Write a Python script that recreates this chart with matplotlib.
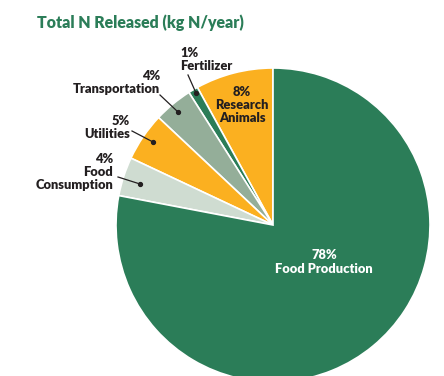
import matplotlib.pyplot as plt

labels = ['Research Animals', 'Fertilizer', 'Transportation', 'Utilities',
          'Food Consumption', 'Food Production']
values = [8, 1, 4, 5, 4, 78]
colors = ['#fbb020', '#2b7d58', '#94ae99', '#fbb020', '#cfdcd1', '#2b7d58']

W, H = 444, 376
plt.rcParams['font.family'] = ['Lato', 'DejaVu Sans']

fig = plt.figure(figsize=(W / 100, H / 100), dpi=100)
ax = fig.add_axes([0, 0, 1, 1])

def py(y):
    return H - y

ax.pie(values, colors=colors, startangle=90, counterclock=True,
       center=(273, py(225)), radius=157,
       wedgeprops=dict(edgecolor='white', linewidth=1.2))
ax.set_xlim(0, W)
ax.set_ylim(0, H)
ax.set_aspect('equal')
ax.axis('off')

dark = '#231f20'
ax.text(37, py(23), 'Total N Released (kg N/year)', color='#2b7d58',
        fontsize=11.4, fontweight='heavy', ha='left', va='center')

# outside labels: pct, name, x, top y, alignment
outside = [
    ('1%', 'Fertilizer', 180, 47, 'left'),
    ('4%', 'Transportation', 160, 70, 'right'),
    ('5%', 'Utilities', 130, 115, 'right'),
    ('4%', 'Food\nConsumption', 113, 153, 'right'),
]
for pct, name, x, y, ha in outside:
    ax.text(x, py(y), pct + '\n' + name, color=dark, fontsize=9.3,
            fontweight='heavy', ha=ha, va='top', linespacing=1.1,
            multialignment=ha)

leaders = [((188, 75), (196, 93)), ((160, 95), (178, 112)),
           ((132, 131), (153, 142)), ((118, 177), (140, 184))]
for (x0, y0), (x1, y1) in leaders:
    ax.plot([x0, x1], [py(y0), py(y1)], color=dark, lw=0.9)
    ax.plot([x1], [py(y1)], 'o', color=dark, ms=2.8)

ax.text(242, py(105), '8%\nResearch\nAnimals', color=dark, fontsize=9.3,
        fontweight='heavy', ha='center', va='center', linespacing=1.15)
ax.text(324, py(262), '78%\nFood Production', color='white', fontsize=9.3,
        fontweight='heavy', ha='center', va='center', linespacing=1.15)

fig.savefig('out.png', dpi=100)
